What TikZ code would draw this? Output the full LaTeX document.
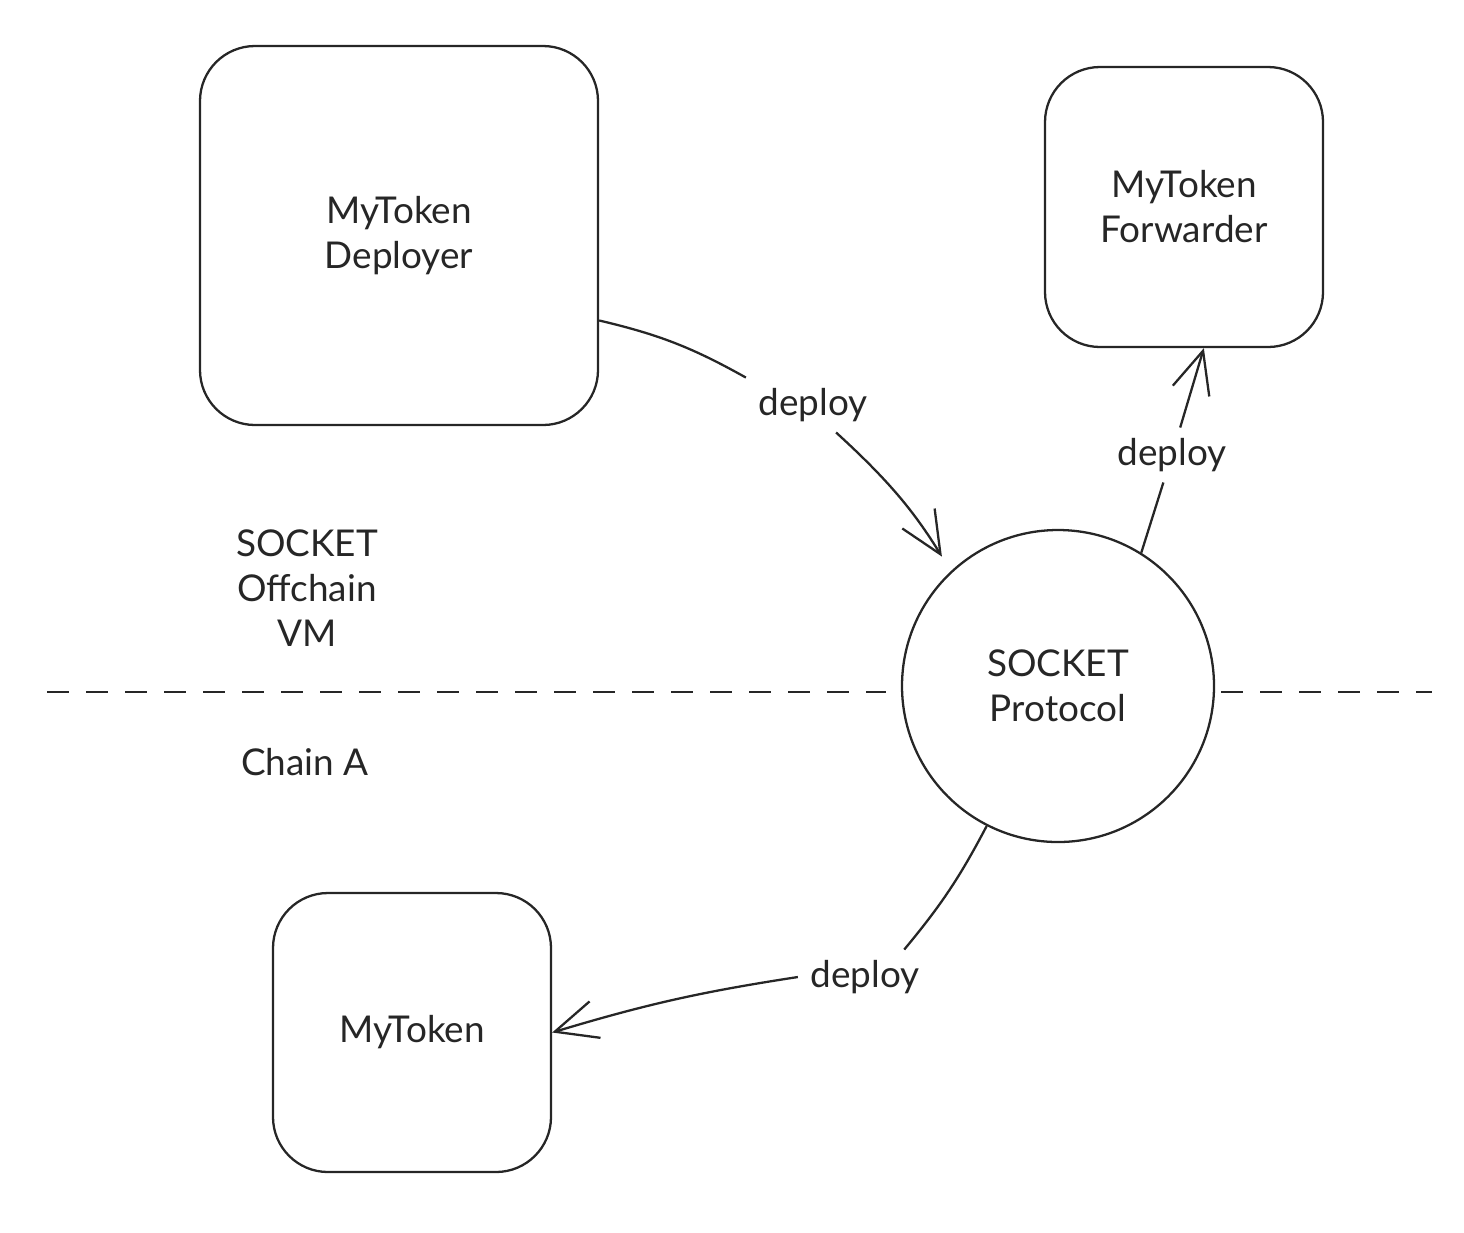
\documentclass[tikz,border=0pt]{standalone}
\usepackage{fontspec}
\setmainfont{Lato}
\usetikzlibrary{arrows.meta,calc}
\begin{document}
\begin{tikzpicture}[
  every node/.style={font=\fontsize{10.5}{12.8}\selectfont, text=black!85},
  box/.style={draw=black!85, line width=0.65pt, rounded corners=0.55cm, align=center, inner sep=0pt},
  proto/.style={draw=black!85, line width=0.65pt, circle, minimum size=3.12cm, align=center, inner sep=0pt},
  lbl/.style={inner xsep=0.12cm, inner ysep=0.1cm},
  conn/.style={draw=black!85, line width=0.65pt},
  arr/.style={conn, -{Straight Barb[length=0.42cm,width=0.38cm,line width=0.65pt]}},
  dashline/.style={draw=black!85, line width=0.65pt, dash pattern=on 0.22cm off 0.17cm},
  txt/.style={align=center}
]
\useasboundingbox (0,0) rectangle (14.64,-12.32);

\node[box, minimum width=3.98cm, minimum height=3.79cm] (dep) at (3.99,-2.355) {MyToken\\Deployer};
\node[box, minimum width=2.78cm, minimum height=2.80cm] (fwd) at (11.84,-2.07) {MyToken\\Forwarder};
\node[box, minimum width=2.78cm, minimum height=2.79cm] (tok) at (4.12,-10.325) {MyToken};
\node[proto] (pr) at (10.58,-6.86) {SOCKET\\Protocol};

\node[txt] (vm) at (3.07,-5.88) {SOCKET\\Offchain\\VM};
\node[txt] (chain) at (3.05,-7.62) {Chain A};

\coordinate (dl) at (0.47,-6.92);
\coordinate (dr) at (14.32,-6.92);
\draw[dashline] (dl) -- ($(pr.west |- dl)+(-0.15,0)$);
\draw[dashline] ($(pr.east |- dr)+(0.06,0)$) -- (dr);

\node[lbl] (l1) at (8.13,-4.05) {deploy};
\node[lbl] (l2) at (11.72,-4.55) {deploy};
\node[lbl] (l3) at (8.65,-9.77) {deploy};

\draw[conn] (dep.-23) to[bend left=8] (l1.north west);
\draw[arr, shorten >=0.17cm] (l1.-50) to[bend left=8] (pr.133);

\draw[conn] (pr.58) -- (l2);
\draw[arr] (l2) -- (fwd.-82);

\draw[conn] (pr.-117) to[bend left=6] (l3.35);
\draw[arr] (l3.west) to[bend right=4] (tok.east);
\end{tikzpicture}
\end{document}
